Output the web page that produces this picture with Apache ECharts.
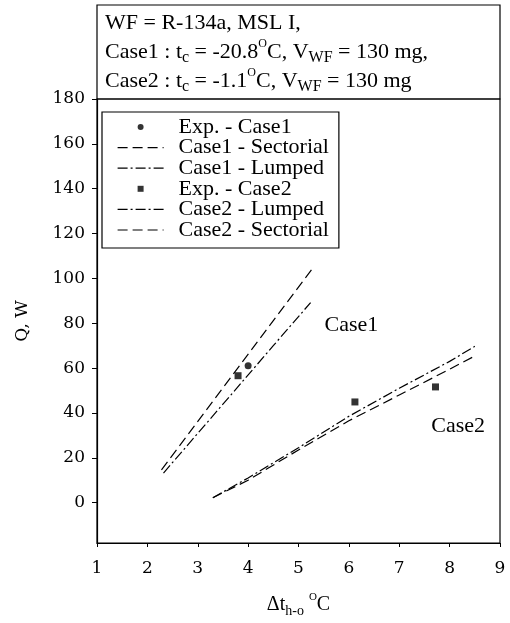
<!DOCTYPE html>
<html><head><meta charset="utf-8">
<script src="https://cdn.jsdelivr.net/npm/echarts@6/dist/echarts.min.js"></script>
<style>html,body{margin:0;padding:0;background:#fff}#c{width:510px;height:623px}</style>
</head><body><div id="c"></div>
<script>
// ---- data ----
const xTickValues = [1, 2, 3, 4, 5, 6, 7, 8, 9];
const yTickValues = [0, 20, 40, 60, 80, 100, 120, 140, 160, 180];
const expCase1X = [4.0];
const expCase1Y = [61.0];
const expCase2X = [3.8, 6.12, 7.72];
const expCase2Y = [56.6, 44.9, 51.6];
const case1SectorialX = [2.28, 3.5, 4.5, 5.28];
const case1SectorialY = [14.6, 51.2, 81.2, 104.5];
const case1LumpedX = [2.32, 3.5, 4.5, 5.24];
const case1LumpedY = [13.2, 43.9, 70.0, 89.2];
const case2LumpedX = [3.3, 4, 5, 6, 7, 8, 8.5];
const case2LumpedY = [2.2, 11, 24.5, 38.5, 51, 63, 69.7];
const case2SectorialX = [3.3, 4, 5, 6, 7, 8, 8.5];
const case2SectorialY = [2.2, 10, 23.5, 36.5, 48, 59.5, 65.4];
const seriesNames = ['Exp. - Case1', 'Case1 - Sectorial', 'Case1 - Lumped', 'Exp. - Case2', 'Case2 - Lumped', 'Case2 - Sectorial'];
const caseLabels = ['Case1', 'Case2'];
const caseLabelAt = [[6.05, 79], [8.17, 34]];
const noteLines = [
  'WF = R-134a, MSL I,',
  'Case1 : t{sub|c} = -20.8{sup|O}C, V{sub|WF} = 130 mg,',
  'Case2 : t{sub|c} = -1.1{sup|O}C, V{sub|WF} = 130 mg'
];

// ---- styles ----
const SERIF = 'Liberation Serif';
const TICKF = 'DejaVu Serif';
const DASH = [10, 5];
const DASHDOT = [10, 3, 2, 3];
const SQUARE = 'path://M0,0L10,0L10,10L0,10Z';
const pairs = (xs, ys) => xs.map((x, i) => [x, ys[i]]);
const lineSeries = (name, xs, ys, dash) => ({
  name, type: 'line', data: pairs(xs, ys), symbol: 'none', smooth: false,
  lineStyle: { color: '#000', width: 1.2, type: dash }, itemStyle: { color: '#000' },
  z: 3, animation: false
});
const subRich = (fs) => ({
  sub: { fontFamily: SERIF, fontSize: Math.round(fs * 0.72), lineHeight: Math.round(fs * 0.72), verticalAlign: 'bottom', color: '#000' },
  sup: { fontFamily: SERIF, fontSize: Math.round(fs * 0.55), lineHeight: Math.round(fs * 0.55) + 2, verticalAlign: 'top', color: '#000' }
});

const chart = echarts.init(document.getElementById('c'), null, { renderer: 'canvas' });
const legendDash = [null, DASH, DASHDOT, null, DASHDOT, DASH];
const legendIcon = ['circle', null, null, SQUARE, null, null];
chart.setOption({
  animation: false,
  backgroundColor: '#fff',
  grid: { left: 97, right: 10, top: 99, bottom: 72, show: true, borderColor: '#000', borderWidth: 1.2, backgroundColor: 'transparent' },
  xAxis: {
    type: 'value', min: 1, max: 9, interval: 1,
    axisLine: { onZero: false, lineStyle: { color: '#000', width: 1.2 } },
    axisTick: { show: true, inside: false, length: 4, lineStyle: { color: '#000' } },
    axisLabel: { color: '#000', fontFamily: TICKF, fontSize: 17, margin: 17 },
    splitLine: { show: false },
    name: 'Δt{sub|h-o} {sup|O}C', nameLocation: 'middle', nameGap: 49,
    nameTextStyle: { color: '#000', fontFamily: SERIF, fontSize: 20, lineHeight: 26, rich: subRich(20) }
  },
  yAxis: {
    type: 'value', min: -18, max: 180,
    axisLine: { onZero: false, lineStyle: { color: '#000', width: 1.2 } },
    axisTick: { show: true, inside: false, length: 5, lineStyle: { color: '#000' }, customValues: yTickValues },
    axisLabel: { color: '#000', fontFamily: TICKF, fontSize: 17, margin: 12, customValues: yTickValues },
    splitLine: { show: false },
    name: 'Q, W', nameLocation: 'middle', nameRotate: 90, nameGap: 66,
    nameTextStyle: { color: '#000', fontFamily: TICKF, fontSize: 17 }
  },
  legend: {
    orient: 'vertical', left: 102, top: 112,
    itemWidth: 46, itemHeight: 6, itemGap: -1.4,
    padding: [4, 10, 7, 15],
    borderColor: '#000', borderWidth: 1.2, backgroundColor: '#fff',
    textStyle: { color: '#000', fontFamily: SERIF, fontSize: 22, lineHeight: 20, padding: [0, 0, 0, 10] },
    data: seriesNames.map((n, i) => legendDash[i]
      ? { name: n, itemStyle: { opacity: 0 }, lineStyle: { type: legendDash[i], width: 1.2, color: '#000' } }
      : { name: n, icon: legendIcon[i] })
  },
  series: [
    { name: seriesNames[0], type: 'scatter', data: pairs(expCase1X, expCase1Y), symbol: 'circle', symbolSize: 7, itemStyle: { color: '#000' }, z: 4 },
    lineSeries(seriesNames[1], case1SectorialX, case1SectorialY, DASH),
    lineSeries(seriesNames[2], case1LumpedX, case1LumpedY, DASHDOT),
    { name: seriesNames[3], type: 'scatter', data: pairs(expCase2X, expCase2Y), symbol: 'rect', symbolSize: 7, itemStyle: { color: '#000' }, z: 4 },
    lineSeries(seriesNames[4], case2LumpedX, case2LumpedY, DASHDOT),
    lineSeries(seriesNames[5], case2SectorialX, case2SectorialY, DASH)
  ]
});

// annotation box and case labels
const graphics = [
  { type: 'rect', shape: { x: 97, y: 5, width: 403, height: 94 }, style: { fill: 'none', stroke: '#000', lineWidth: 1.2 }, z: 10 }
];
noteLines.forEach((t, i) => {
  graphics.push({
    type: 'text', left: 105, top: 9 + i * 29, z: 11,
    style: { text: t, fontFamily: SERIF, fontSize: 22, lineHeight: 28, fill: '#000', rich: subRich(22) }
  });
});
caseLabels.forEach((t, i) => {
  const p = chart.convertToPixel({ gridIndex: 0 }, caseLabelAt[i]);
  graphics.push({
    type: 'text', x: p[0], y: p[1], z: 11,
    style: { text: t, fontFamily: SERIF, fontSize: 22, fill: '#000', align: 'center', verticalAlign: 'middle' }
  });
});
chart.setOption({ graphic: graphics });
</script>
</body></html>
